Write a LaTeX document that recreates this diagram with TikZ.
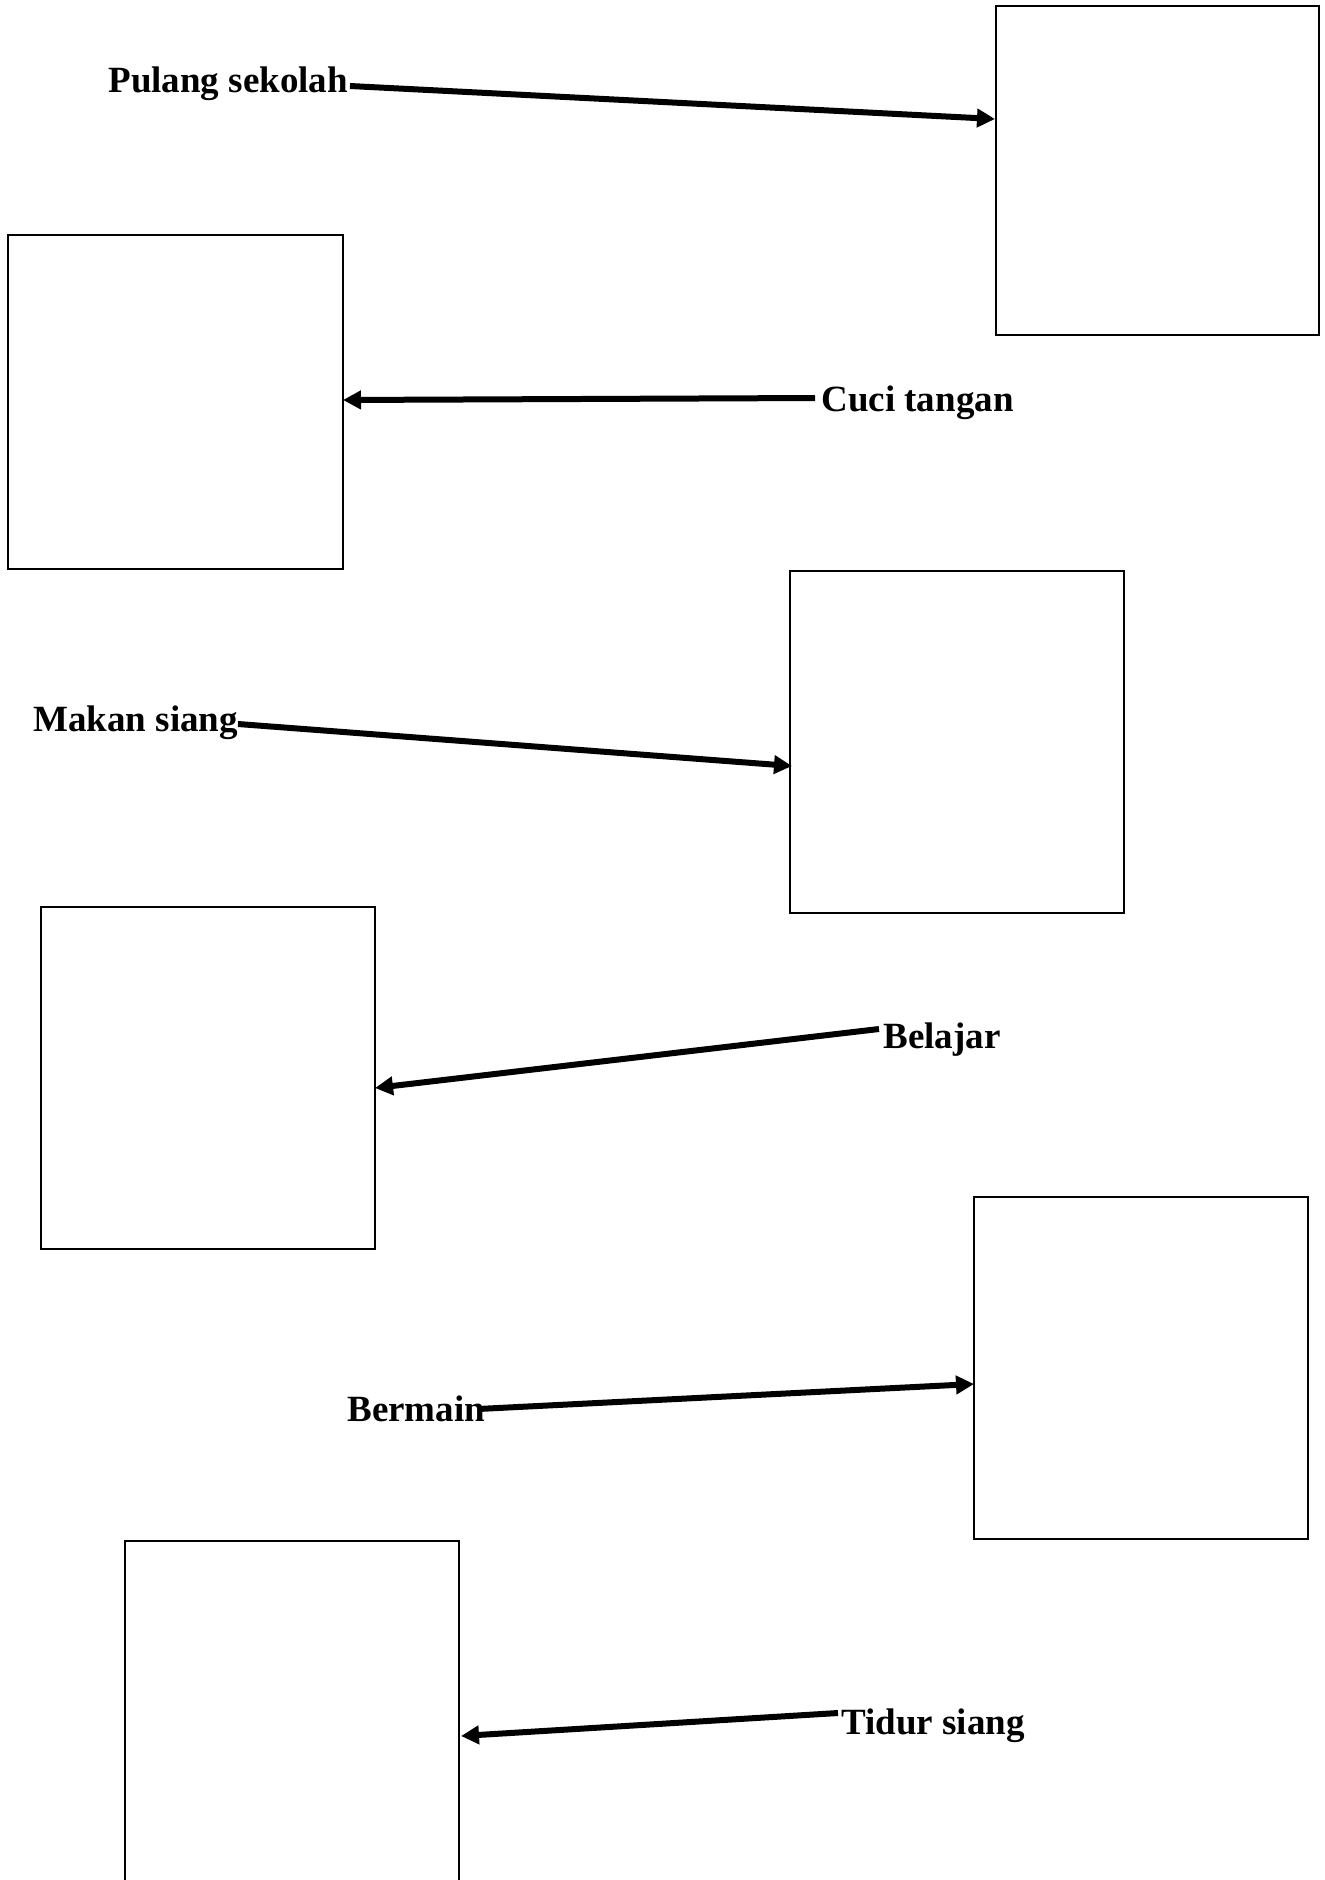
\documentclass[tikz,border=0pt]{standalone}
\usepackage{fontspec}
\setmainfont{Liberation Serif}
\usetikzlibrary{arrows.meta}
\begin{document}
\begin{tikzpicture}[x=0.5pt,y=-0.5pt,
  box/.style={draw,line width=1pt,inner sep=0pt,anchor=north west,minimum width=334*0.5pt,minimum height=342*0.5pt},
  lbl/.style={anchor=base west,inner sep=0pt,font=\fontsize{18.5}{22}\selectfont\bfseries},
  conn/.style={line width=3pt,-{Triangle[length=9pt,width=9pt]}}]
\useasboundingbox (0,0) rectangle (1324,1880);
\clip (0,0) rectangle (1324,1880);
\fill[white] (0,0) rectangle (1324,1880);
% boxes
\node[box,minimum width=323*0.5pt,minimum height=329*0.5pt] (b1) at (995,5) {};
\node[box,minimum width=335*0.5pt,minimum height=334*0.5pt] (b2) at (7,234) {};
\node[box] (b3) at (789,570) {};
\node[box] (b4) at (40,906) {};
\node[box] (b5) at (973,1196) {};
\node[box,minimum height=350*0.5pt] (b6) at (124,1540) {};
% labels
\node[lbl] (t1) at (108,92) {Pulang sekolah};
\node[lbl] (t2) at (821,411) {Cuci tangan};
\node[lbl] (t3) at (33,731) {Makan siang};
\node[lbl] (t4) at (883,1048) {Belajar};
\node[lbl] (t5) at (347,1421) {Bermain};
\node[lbl] (t6) at (841,1734) {Tidur siang};
% connector ends
\coordinate (s1) at (350,86);   \coordinate (e1) at (995,119);
\coordinate (s2) at (815,398);  \coordinate (e2) at (343,400);
\coordinate (s3) at (238,724);  \coordinate (e3) at (792,766);
\coordinate (s4) at (879,1029); \coordinate (e4) at (375,1088);
\coordinate (s5) at (478,1409); \coordinate (e5) at (974,1384);
\coordinate (s6) at (838,1713); \coordinate (e6) at (461,1736);
\draw[conn] (s1) -- (e1);
\draw[conn] (s2) -- (e2);
\draw[conn] (s3) -- (e3);
\draw[conn] (s4) -- (e4);
\draw[conn] (s5) -- (e5);
\draw[conn] (s6) -- (e6);
\end{tikzpicture}
\end{document}
